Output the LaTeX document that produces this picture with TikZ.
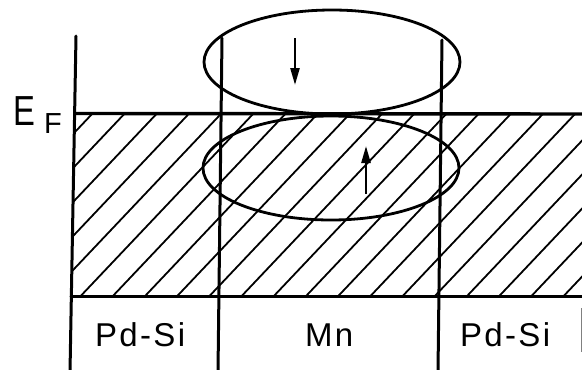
\documentclass[tikz,border=0pt]{standalone}
\usepackage{fontspec}
\setmainfont{Liberation Sans}
\usetikzlibrary{arrows.meta}
\begin{document}
\begin{tikzpicture}[x=1pt,y=-1pt,
  frame/.style={line width=3pt,line cap=round},
  hatch/.style={line width=1.8pt},
  band/.style={line width=2.8pt},
  spin/.style={line width=2.4pt,-{Triangle[length=17pt,width=9pt]}},
  lbl/.style={inner sep=0pt,anchor=base west,font=\fontsize{33}{33}\selectfont\addfontfeatures{LetterSpace=7}}]
\useasboundingbox (0,0) rectangle (582,370);
% hatching of the filled states
\begin{scope}
  \clip (75.5,113) -- (582,113) -- (582,296) -- (72.5,296) -- cycle;
  \foreach \k in {-6,...,20}{
    \pgfmathsetmacro\xa{93+32.2*\k}
    \draw[hatch] (\xa+107,0) -- (\xa-271.8,400);
  }
\end{scope}
% frame lines
\coordinate (ltop) at (76,36);
\coordinate (lbot) at (70,372);
\coordinate (mtop) at (222,38);
\coordinate (mbot) at (218,372);
\coordinate (rtop) at (442,40);
\coordinate (rbot) at (438,372);
\coordinate (efl) at (75.5,113.5);
\coordinate (efr) at (584,114);
\coordinate (bl) at (71,296);
\coordinate (br) at (584,296);
\draw[frame] (ltop) -- (lbot);
\draw[frame] (mtop) -- (mbot);
\draw[frame] (rtop) -- (rbot);
\draw[frame,line width=3.4pt] (efl) -- (efr);
\draw[frame] (bl) -- (br);
\draw[gray,line width=0.8pt] (581,308) -- (581,352);
% spin bands
\draw[band] (332,62) ellipse [x radius=128pt, y radius=52pt];
\draw[band] (331,168) ellipse [x radius=128pt, y radius=52pt];
% spin arrows
\coordinate (d0) at (295,38);
\coordinate (d1) at (295,85);
\coordinate (u0) at (366,194);
\coordinate (u1) at (366,146);
\draw[spin] (d0) -- (d1);
\draw[spin] (u0) -- (u1);
% labels
\node[inner sep=0pt,anchor=base west] (E) at (13,125) {\fontsize{42}{42}\selectfont\scalebox{0.78}[1]{E}};
\node[inner sep=0pt,anchor=base west] (F) at (44,133) {\fontsize{29}{29}\selectfont F};
\node[lbl] (pd1) at (95,346) {Pd-Si};
\node[lbl] (mn) at (305,346) {Mn};
\node[lbl] (pd2) at (460,346) {Pd-Si};
\end{tikzpicture}
\end{document}
